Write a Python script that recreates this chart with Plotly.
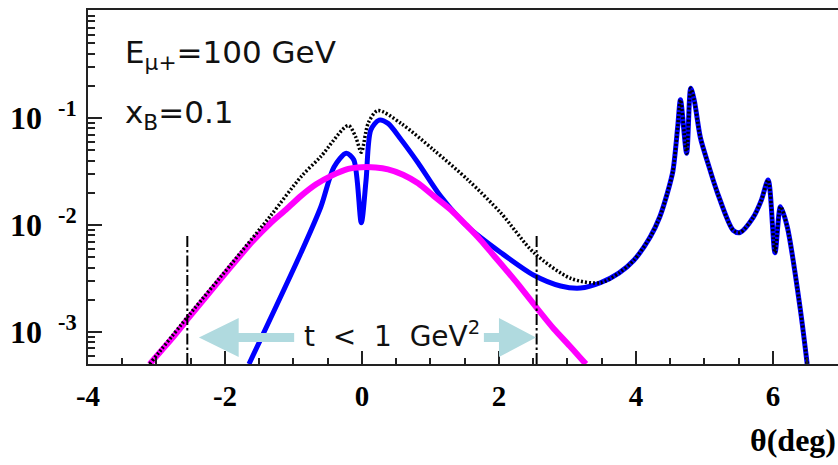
import plotly.graph_objects as go

# ---------------- data ----------------
theta_magenta = [-3.10, -2.78, -2.52, -2.20, -1.91, -1.60, -1.33, -1.10, -0.89, -0.67,
                 -0.45, -0.20, 0.00, 0.20, 0.38, 0.60, 0.82, 1.05, 1.30, 1.52,
                 1.73, 1.93, 2.13, 2.35, 2.57, 2.80, 3.05, 3.27]
y_magenta = [5.0e-4, 8.6e-4, 1.38e-3, 2.45e-3, 4.1e-3, 7.0e-3, 0.0105, 0.0141, 0.0187, 0.0240,
             0.0288, 0.0335, 0.0347, 0.0345, 0.0331, 0.0295, 0.0245, 0.0186, 0.0138, 0.0100,
             0.00724, 0.00513, 0.00363, 0.00245, 0.00162, 0.00107, 7.2e-4, 5.0e-4]

theta_blue = [-1.65, -0.89, -0.60, -0.41, -0.23, -0.12, -0.01, 0.06, 0.13, 0.25,
              0.38, 0.57, 0.82, 1.15, 1.55, 2.03, 2.51, 2.90, 3.19, 3.48,
              3.75, 3.97, 4.21, 4.35, 4.46, 4.54, 4.61, 4.65, 4.74, 4.80, 4.85, 4.94, 5.05, 5.19,
              5.42, 5.52, 5.71, 5.83, 5.93, 6.03, 6.11, 6.21, 6.40, 6.50]
y_blue = [5.0e-4, 5.5e-3, 0.0148, 0.0347, 0.0468, 0.0407, 0.0105, 0.0263, 0.0776, 0.0955,
          0.0891, 0.0630, 0.0380, 0.0185, 0.00955, 0.0055, 0.00339, 0.00269, 0.00257, 0.00288,
          0.00355, 0.00468, 0.00776, 0.0120, 0.0200, 0.0320, 0.0832, 0.148, 0.0468, 0.190, 0.148, 0.066,
          0.0380, 0.0200,
          0.0089, 0.0085, 0.0117, 0.0170, 0.0263, 0.0055, 0.0148, 0.00955, 0.00162, 5.0e-4]

theta_total = [-3.10, -2.52, -1.91, -1.33, -0.89, -0.60, -0.20, -0.09, -0.01, 0.09,
               0.23, 0.57, 1.05, 1.55, 2.03, 2.51, 3.05, 3.48,
               3.75, 3.97, 4.21, 4.35, 4.46, 4.54, 4.61, 4.65, 4.74, 4.80, 4.85, 4.94, 5.05, 5.19,
               5.42, 5.52, 5.71, 5.83, 5.93, 6.03, 6.11, 6.21, 6.40, 6.50]
y_total = [5.0e-4, 1.45e-3, 4.3e-3, 0.0123, 0.0282, 0.0437, 0.0851, 0.066, 0.0479, 0.0891,
           0.1175, 0.0891, 0.0501, 0.0263, 0.0129, 0.0055, 0.00316, 0.00288,
           0.00355, 0.00468, 0.00776, 0.0120, 0.0200, 0.0320, 0.0832, 0.148, 0.0468, 0.190, 0.148, 0.066,
           0.0380, 0.0200,
           0.0089, 0.0085, 0.0117, 0.0170, 0.0263, 0.0055, 0.0148, 0.00955, 0.00162, 5.0e-4]

cut_theta = [-2.55, 2.55]
cut_bottom = 5.0e-4
cut_top = 8.1e-3

x_tickvals = [-4, -2, 0, 2, 4, 6]
x_ticktext = ["-4", "-2", "0", "2", "4", "6"]
y_tickvals = [1e-3, 1e-2, 1e-1]
y_ticktext = ["10\u00a0\u00a0<sup>-3</sup>", "10\u00a0\u00a0<sup>-2</sup>", "10\u00a0\u00a0<sup>-1</sup>"]
y_minor = [m * 10.0 ** e for e in (-4, -3, -2, -1) for m in range(2, 10)]

# ---------------- figure ----------------
fig = go.Figure()

fig.add_trace(go.Scatter(x=theta_blue, y=y_blue, mode="lines",
                         line=dict(color="#0000ff", width=5, shape="spline", smoothing=0.8)))
fig.add_trace(go.Scatter(x=theta_magenta, y=y_magenta, mode="lines",
                         line=dict(color="#ff00ff", width=6, shape="spline", smoothing=0.6)))
fig.add_trace(go.Scatter(x=theta_total, y=y_total, mode="lines",
                         line=dict(color="#000000", width=3.5, dash="2px,2px",
                                   shape="spline", smoothing=0.8)))
for ct in cut_theta:
    fig.add_trace(go.Scatter(x=[ct, ct], y=[cut_bottom, cut_top], mode="lines",
                             line=dict(color="#000000", width=2, dash="11px,3px,2.5px,3px")))

# arrows (decoration)
arrow_color = "#b0dadf"
yc, sh, hh = 0.0749, 0.0127, 0.0551
left_tip, left_base, left_end = -2.38, -1.80, -0.99
right_start, right_base, right_tip = 1.78, 2.00, 2.54
fig.add_shape(type="path", xref="x", yref="paper", fillcolor=arrow_color, line_width=0,
              path=(f"M {left_end},{yc - sh} L {left_base},{yc - sh} L {left_base},{yc - hh} "
                    f"L {left_tip},{yc} L {left_base},{yc + hh} L {left_base},{yc + sh} "
                    f"L {left_end},{yc + sh} Z"))
fig.add_shape(type="path", xref="x", yref="paper", fillcolor=arrow_color, line_width=0,
              path=(f"M {right_start},{yc - sh} L {right_base},{yc - sh} L {right_base},{yc - hh} "
                    f"L {right_tip},{yc} L {right_base},{yc + hh} L {right_base},{yc + sh} "
                    f"L {right_start},{yc + sh} Z"))

sans = "DejaVu Sans"
serif = "Liberation Serif"
fig.add_annotation(x=0.44, y=0.082, xref="x", yref="paper", showarrow=False,
                   text="t\u00a0\u00a0&lt;\u00a0\u00a01\u00a0\u00a0GeV<sup>2</sup>",
                   font=dict(family=sans, size=28, color="#111"),
                   xanchor="center", yanchor="middle")
fig.add_annotation(x=0.046, y=0.875, xref="paper", yref="paper", showarrow=False,
                   text="E<sub>μ+</sub>=100 GeV", font=dict(family=sans, size=31, color="#111"),
                   xanchor="left", yanchor="middle")
fig.add_annotation(x=0.046, y=0.705, xref="paper", yref="paper", showarrow=False,
                   text="x<sub>B</sub>=0.1", font=dict(family=sans, size=31, color="#111"),
                   xanchor="left", yanchor="middle")
fig.add_annotation(x=1.0, y=-0.215, xref="paper", yref="paper", showarrow=False,
                   text="θ(deg)", font=dict(family=serif, size=32, color="#000", weight="bold"),
                   xanchor="right", yanchor="middle")

fig.update_xaxes(range=[-4, 6.95], showgrid=False, zeroline=False,
                 showline=True, linecolor="#222", linewidth=2, mirror=True,
                 tickmode="array", tickvals=x_tickvals, ticktext=x_ticktext,
                 ticks="inside", ticklen=13, tickwidth=1.5, tickcolor="#222",
                 minor=dict(dtick=0.5, tick0=0, ticks="inside", ticklen=6, tickwidth=1.5,
                            tickcolor="#222", showgrid=False),
                 tickfont=dict(family=serif, size=29, color="#000", weight="bold"),
                 ticklabelstandoff=5)
fig.update_yaxes(type="log", range=[-3.30, 0.01], showgrid=False, zeroline=False,
                 showline=True, linecolor="#222", linewidth=2, mirror=False,
                 tickmode="array", tickvals=y_tickvals, ticktext=y_ticktext,
                 ticks="inside", ticklen=14, tickwidth=1.5, tickcolor="#222",
                 minor=dict(tickmode="array", tickvals=y_minor, ticks="inside", ticklen=7,
                            tickwidth=1.5, tickcolor="#222", showgrid=False),
                 tickfont=dict(family=serif, size=32, color="#000", weight="bold"),
                 ticklabelstandoff=3)

fig.update_layout(width=838, height=465, margin=dict(l=88, r=0, t=10, b=101),
                  paper_bgcolor="white", plot_bgcolor="white", showlegend=False)

fig.write_html("out.html")
